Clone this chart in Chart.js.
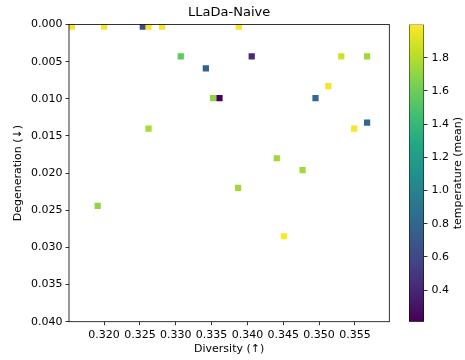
<!DOCTYPE html>
<html>
<head>
<meta charset="utf-8">
<script src="https://cdn.jsdelivr.net/npm/chart.js@4/dist/chart.umd.min.js"></script>
<style>
html,body{margin:0;padding:0;background:#fff;}
#wrap{position:relative;width:465px;height:360px;overflow:hidden;}
#main{position:absolute;left:0;top:0;}
#cbar{position:absolute;left:400px;top:0;}
</style>
</head>
<body>
<div id="wrap">
  <canvas id="main" width="400" height="360"></canvas>
  <canvas id="cbar" width="65" height="360"></canvas>
</div>
<script>
const $ = (id) => document.getElementById(id);

// values
const diversity = [0.3155, 0.3200, 0.3254, 0.3262, 0.3281, 0.3388, 0.3307, 0.3342, 0.3406, 0.3531, 0.3567, 0.3513,
  0.3352, 0.3361, 0.3495, 0.3567, 0.3549, 0.3262, 0.3441, 0.3477, 0.3387, 0.3191, 0.3451];
const degeneration = [0.0003, 0.0003, 0.0003, 0.0003, 0.0003, 0.0003, 0.0043, 0.0059, 0.0043, 0.0043, 0.0043, 0.0083,
  0.0099, 0.0099, 0.0099, 0.0132, 0.0140, 0.0140, 0.0180, 0.0196, 0.0220, 0.0244, 0.0285];
const temperature = [1.98, 1.98, 0.62, 1.98, 1.98, 1.98, 1.55, 0.75, 0.43, 1.87, 1.75, 1.98,
  1.70, 0.21, 0.82, 0.82, 1.98, 1.77, 1.75, 1.75, 1.75, 1.71, 2.0];

const xTicks = [0.320, 0.325, 0.330, 0.335, 0.340, 0.345, 0.350, 0.355];
const yTicks = [0.000, 0.005, 0.010, 0.015, 0.020, 0.025, 0.030, 0.035, 0.040];
const cbTicks = [0.4, 0.6, 0.8, 1.0, 1.2, 1.4, 1.6, 1.8];

const FONT = "'DejaVu Sans', sans-serif";
const INK = "#000";

const tMin = Math.min(...temperature);
const tMax = Math.max(...temperature);

// viridis anchors
const VIRIDIS = ["#440154","#482475","#414487","#355f8d","#2a788e","#21918c","#22a884","#44bf70","#7ad151","#bddf26","#fde725"];
function hex2rgb(h){ return [1,3,5].map(i => parseInt(h.slice(i,i+2),16)); }
function viridis(t){
  t = Math.min(1, Math.max(0, t));
  const p = t * (VIRIDIS.length - 1);
  const i = Math.min(VIRIDIS.length - 2, Math.floor(p));
  const f = p - i;
  const a = hex2rgb(VIRIDIS[i]), b = hex2rgb(VIRIDIS[i+1]);
  const c = a.map((v,k) => Math.round(v + (b[k]-v)*f));
  return `rgb(${c[0]},${c[1]},${c[2]})`;
}
const norm = (v) => (v - tMin) / (tMax - tMin);

const frame = {
  id: "frame",
  afterDraw(chart){
    const { ctx, chartArea: a } = chart;
    ctx.save();
    ctx.strokeStyle = INK;
    ctx.lineWidth = 0.8;
    ctx.strokeRect(a.left, a.top, a.right - a.left, a.bottom - a.top);
    ctx.restore();
  }
};

const tickGrid = { display: true, drawOnChartArea: false, drawTicks: true, tickLength: 3.5, tickColor: INK, tickWidth: 0.8, color: INK };

new Chart($("main"), {
  type: "scatter",
  data: {
    datasets: [{
      data: diversity.map((x, i) => ({ x, y: degeneration[i] })),
      pointStyle: "rect",
      pointRadius: 4.4,
      pointHoverRadius: 4.4,
      borderWidth: 0,
      backgroundColor: (ctx) => viridis(norm(temperature[ctx.dataIndex] ?? tMin)),
      clip: 0
    }]
  },
  options: {
    responsive: false,
    animation: false,
    layout: { padding: { left: 0, right: 10.7, top: 0, bottom: 0 } },
    plugins: {
      legend: { display: false },
      tooltip: { enabled: false },
      title: {
        display: true, text: "LLaDa-Naive", fullSize: false, color: INK,
        font: { family: FONT, size: 13, weight: "normal" },
        padding: { top: 4.5, bottom: 4.4 }
      }
    },
    scales: {
      x: {
        type: "linear", min: 0.3151, max: 0.3598,
        afterBuildTicks: (s) => { s.ticks = xTicks.map(v => ({ value: v })); },
        afterFit: (s) => { s.height = 38.3; },
        ticks: { callback: (v) => Number(v).toFixed(3), color: INK, font: { family: FONT, size: 11 }, padding: 3, maxRotation: 0, autoSkip: false },
        grid: tickGrid,
        border: { display: false },
        title: { display: true, text: "Diversity (↑)", color: INK, font: { family: FONT, size: 11 }, padding: { top: 0, bottom: 4 } }
      },
      y: {
        type: "linear", reverse: true, min: 0, max: 0.04,
        afterBuildTicks: (s) => { s.ticks = yTicks.map(v => ({ value: v })); },
        afterFit: (s) => { s.width = 69; },
        ticks: { callback: (v) => Number(v).toFixed(3), color: INK, font: { family: FONT, size: 11 }, padding: 3, autoSkip: false },
        grid: tickGrid,
        border: { display: false },
        title: { display: true, text: "Degeneration (↓)", color: INK, font: { family: FONT, size: 11 }, padding: { top: 11.4, bottom: 0 } }
      }
    }
  },
  plugins: [frame]
});

// colorbar
function barGradient(chart){
  const a = chart.chartArea;
  if(!a) return "transparent";
  const g = chart.ctx.createLinearGradient(0, a.bottom, 0, a.top);
  VIRIDIS.forEach((c, i) => g.addColorStop(i / (VIRIDIS.length - 1), c));
  return g;
}

const cbLabel = {
  id: "cbLabel",
  afterDraw(chart){
    const { ctx, chartArea: a } = chart;
    ctx.save();
    ctx.fillStyle = INK;
    ctx.font = `11px ${FONT}`;
    ctx.textAlign = "center";
    ctx.textBaseline = "middle";
    ctx.translate(58, (a.top + a.bottom) / 2);
    ctx.rotate(-Math.PI / 2);
    ctx.fillText("temperature (mean)", 0, 0);
    ctx.restore();
  }
};

new Chart($("cbar"), {
  type: "bar",
  data: {
    labels: [""],
    datasets: [{
      data: [[tMin, tMax]],
      backgroundColor: (ctx) => barGradient(ctx.chart),
      borderColor: INK,
      borderWidth: 0.8,
      borderSkipped: false,
      barPercentage: 1,
      categoryPercentage: 1
    }]
  },
  options: {
    responsive: false,
    animation: false,
    layout: { padding: { left: 9, right: 0, top: 24.5, bottom: 38.3 } },
    plugins: { legend: { display: false }, tooltip: { enabled: false } },
    scales: {
      x: { display: false },
      y: {
        position: "right", min: tMin, max: tMax,
        afterBuildTicks: (s) => { s.ticks = cbTicks.map(v => ({ value: v })); },
        afterFit: (s) => { s.width = 41; },
        ticks: { callback: (v) => Number(v).toFixed(1), color: INK, font: { family: FONT, size: 11 }, padding: 4, autoSkip: false },
        grid: tickGrid,
        border: { display: false }
      }
    }
  },
  plugins: [cbLabel]
});
</script>
</body>
</html>
